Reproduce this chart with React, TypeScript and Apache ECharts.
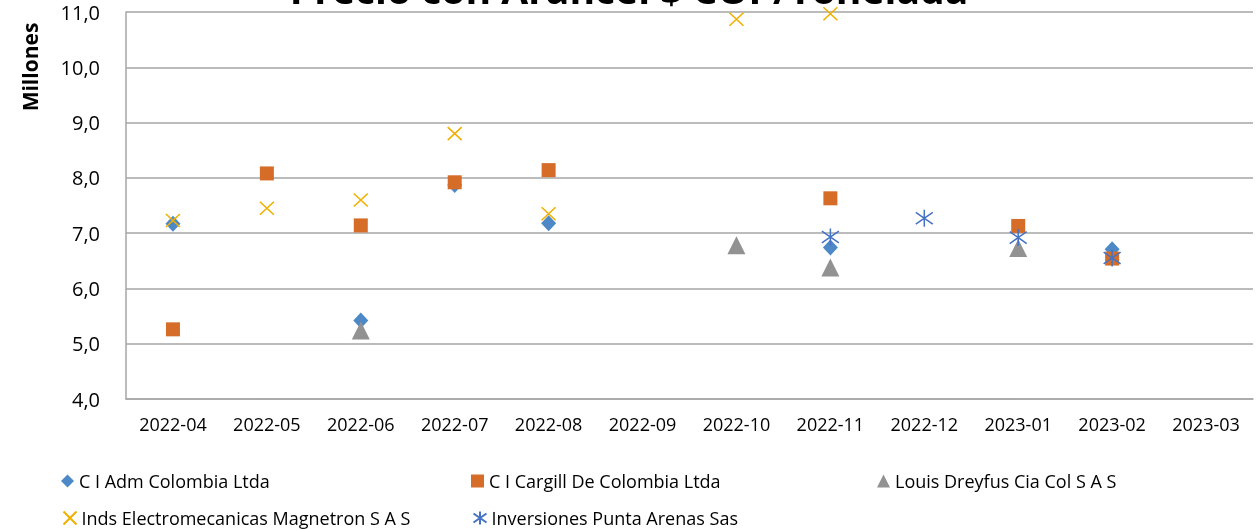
import React, { useEffect, useRef } from "react";
import * as echarts from "echarts";

const categories = ["2022-04", "2022-05", "2022-06", "2022-07", "2022-08", "2022-09", "2022-10", "2022-11", "2022-12", "2023-01", "2023-02", "2023-03"];
const admValues = [7.17, null, 5.42, 7.87, 7.18, null, null, 6.74, null, null, 6.71, null];
const cargillValues = [5.26, 8.08, 7.14, 7.92, 8.14, null, null, 7.63, null, 7.13, 6.54, null];
const dreyfusValues = [null, null, 5.24, null, null, null, 6.78, 6.38, null, 6.73, null, null];
const magnetronValues = [7.23, 7.45, 7.6, 8.8, 7.35, null, 10.87, 10.97, null, null, null, null];
const puntaValues = [null, null, null, null, null, null, null, 6.93, 7.27, 6.92, 6.55, null];
const seriesNames = ["C I Adm Colombia Ltda", "C I Cargill De Colombia Ltda", "Louis Dreyfus Cia Col S A S", "Inds Electromecanicas Magnetron S A S", "Inversiones Punta Arenas Sas"];
const titleText = "Precio con Arancel $ COP/Tonelada";
const yName = "Millones";

const FONT = "Open Sans";

export default function App() {
  const ref = useRef<HTMLDivElement>(null);
  useEffect(() => {
    if (!ref.current) return;
    const chart = echarts.init(ref.current, null, { renderer: "svg" });
    const toData = (arr: (number | null)[]) => arr.map((v) => (v == null ? "-" : v));
    const legendPos = [
      { left: 56, top: 467 },
      { left: 466, top: 467 },
      { left: 872, top: 467 },
      { left: 56, top: 504 },
      { left: 466, top: 504 },
    ];
    chart.setOption({
      animation: false,
      textStyle: { fontFamily: FONT },
      grid: { left: 126, top: 12, right: 5, bottom: 131, containLabel: false },
      graphic: [
        {
          type: "text",
          left: "center",
          top: -31,
          style: { text: titleText, font: `bold 39px '${FONT}'`, fill: "#000" },
          z: 10,
        },
        {
          type: "text",
          x: 30,
          y: 67,
          rotation: Math.PI / 2,
          style: { text: yName, font: `bold 21px '${FONT}'`, fill: "#000", align: "center", verticalAlign: "middle" },
        },
      ],
      legend: seriesNames.map((n, i) => ({
        data: [n],
        left: legendPos[i].left,
        top: legendPos[i].top,
        itemWidth: 13,
        itemHeight: 13,
        itemGap: 4,
        textStyle: { fontFamily: FONT, fontSize: 18, color: "#000" },
        selectedMode: false,
      })),
      xAxis: {
        type: "category",
        data: categories,
        axisLine: { show: true, lineStyle: { color: "#A6A6A6", width: 1.5 } },
        axisTick: { show: false },
        axisLabel: { color: "#000", fontSize: 18, fontFamily: FONT, margin: 16 },
        splitLine: { show: false },
      },
      yAxis: {
        type: "value",
        min: 4,
        max: 11,
        interval: 1,
        axisLine: { show: true, lineStyle: { color: "#A6A6A6", width: 1.5 } },
        axisTick: { show: false },
        axisLabel: {
          color: "#000",
          fontSize: 20,
          fontFamily: FONT,
          margin: 26,
          formatter: (v: number) => v.toFixed(1).replace(".", ","),
        },
        splitLine: { show: true, lineStyle: { color: "#A6A6A6", width: 1.5 } },
      },
      series: [
        {
          name: seriesNames[0],
          type: "scatter",
          data: toData(admValues),
          symbol: "diamond",
          symbolSize: [15, 16],
          itemStyle: { color: "#4C89C6", opacity: 1 },
        },
        {
          name: seriesNames[1],
          type: "scatter",
          data: toData(cargillValues),
          symbol: "rect",
          symbolSize: 14,
          itemStyle: { color: "#D56D29", opacity: 1 },
        },
        {
          name: seriesNames[2],
          type: "scatter",
          data: toData(dreyfusValues),
          symbol: "triangle",
          symbolSize: [18, 18],
          itemStyle: { color: "#929292", opacity: 1 },
        },
        {
          name: seriesNames[3],
          type: "scatter",
          data: toData(magnetronValues),
          symbol: "path://M0 0L10 10M10 0L0 10",
          symbolSize: [14, 13],
          itemStyle: { color: "none", borderColor: "#F0B000", borderWidth: 1.5, opacity: 1 },
        },
        {
          name: seriesNames[4],
          type: "scatter",
          data: toData(puntaValues),
          symbol: "path://M5 0L5 10M0 1.5L10 8.5M0 8.5L10 1.5",
          symbolSize: [17, 17],
          itemStyle: { color: "none", borderColor: "#4472C4", borderWidth: 1.5, opacity: 1 },
        },
      ],
    });
    return () => chart.dispose();
  }, []);
  return <div ref={ref} style={{ position: "fixed", left: 0, top: 0, width: 1258, height: 530 }} />;
}
